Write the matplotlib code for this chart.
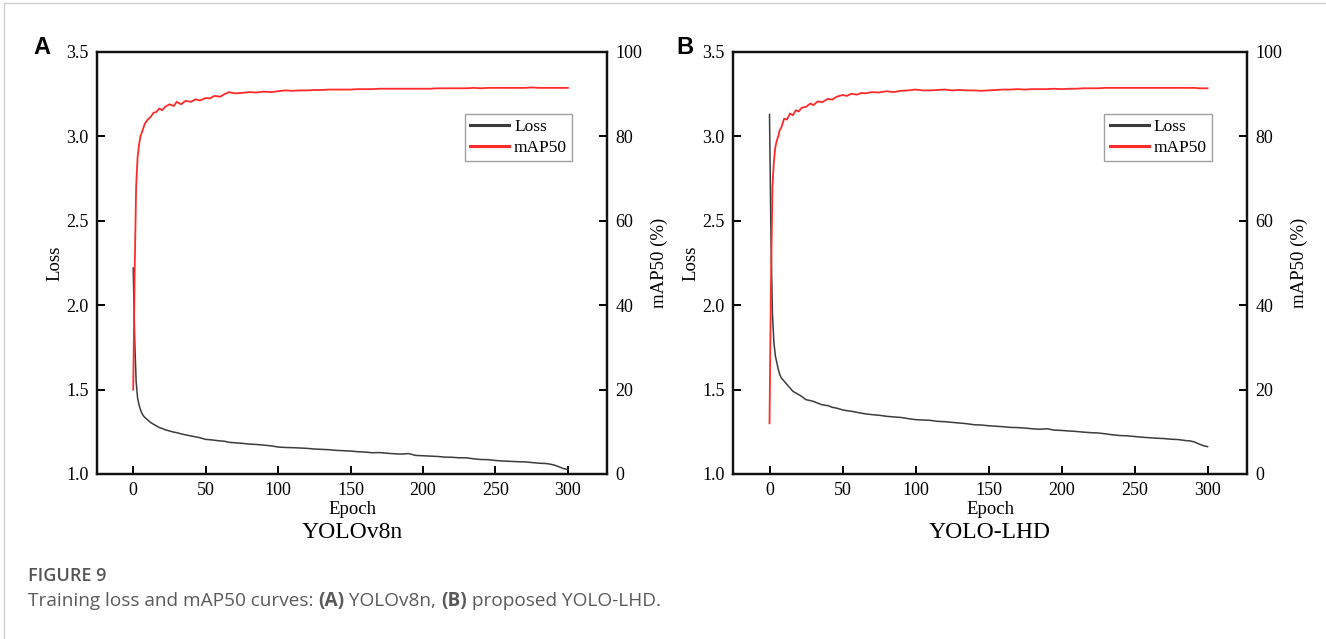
import matplotlib
matplotlib.use("Agg")
import matplotlib.pyplot as plt
from matplotlib.lines import Line2D

# ---------------- data ----------------
epochs = [0, 1, 2, 3, 4, 5, 6, 7, 8, 10, 12, 14, 16, 18, 20, 22, 25, 28, 30, 33, 36,
          40, 43, 46, 50, 53, 56, 60, 63, 66, 70, 75, 80, 85, 90, 95, 100, 105, 110,
          115, 120, 125, 130, 135, 140, 145, 150, 155, 160, 165, 170, 175, 180, 185,
          190, 195, 200, 205, 210, 215, 220, 225, 230, 235, 240, 245, 250, 255, 260,
          265, 270, 275, 280, 285, 288, 291, 294, 297, 300]

loss_a = [2.22, 1.80, 1.55, 1.45, 1.41, 1.38, 1.36, 1.345, 1.335, 1.32, 1.305, 1.295,
          1.285, 1.275, 1.27, 1.262, 1.255, 1.248, 1.245, 1.238, 1.232, 1.225, 1.22,
          1.215, 1.205, 1.203, 1.200, 1.196, 1.194, 1.188, 1.185, 1.182, 1.177, 1.175,
          1.171, 1.167, 1.160, 1.157, 1.156, 1.154, 1.152, 1.148, 1.146, 1.144, 1.140,
          1.138, 1.136, 1.132, 1.130, 1.126, 1.127, 1.123, 1.120, 1.118, 1.121, 1.110,
          1.108, 1.106, 1.104, 1.100, 1.099, 1.096, 1.096, 1.090, 1.086, 1.085, 1.080,
          1.077, 1.075, 1.073, 1.072, 1.068, 1.064, 1.062, 1.058, 1.052, 1.042, 1.032,
          1.026]

map_a = [20, 48, 68, 75, 78, 80, 81, 82, 83, 84, 84.6, 85.6, 85.8, 86.6, 86.2, 87.0,
         87.6, 87.2, 88.2, 87.6, 88.4, 88.2, 88.8, 88.5, 89.1, 89.0, 89.6, 89.4, 90.0,
         90.5, 90.2, 90.3, 90.5, 90.4, 90.6, 90.5, 90.7, 90.9, 90.8, 90.9, 90.9, 91.0,
         91.0, 91.1, 91.1, 91.1, 91.1, 91.2, 91.2, 91.2, 91.3, 91.3, 91.3, 91.3, 91.3,
         91.3, 91.3, 91.3, 91.4, 91.4, 91.4, 91.4, 91.4, 91.5, 91.4, 91.5, 91.5, 91.5,
         91.5, 91.5, 91.5, 91.6, 91.5, 91.5, 91.5, 91.5, 91.5, 91.5, 91.5]

loss_b = [3.13, 2.40, 1.95, 1.78, 1.70, 1.66, 1.62, 1.59, 1.57, 1.55, 1.53, 1.51, 1.49,
          1.48, 1.47, 1.46, 1.44, 1.435, 1.43, 1.42, 1.41, 1.405, 1.395, 1.39, 1.38,
          1.375, 1.372, 1.365, 1.36, 1.356, 1.352, 1.348, 1.342, 1.338, 1.335, 1.328,
          1.322, 1.320, 1.318, 1.312, 1.310, 1.306, 1.302, 1.298, 1.292, 1.290, 1.286,
          1.283, 1.280, 1.276, 1.275, 1.272, 1.268, 1.265, 1.268, 1.260, 1.258, 1.255,
          1.252, 1.248, 1.245, 1.243, 1.238, 1.232, 1.228, 1.226, 1.222, 1.218, 1.215,
          1.212, 1.210, 1.206, 1.204, 1.198, 1.196, 1.190, 1.178, 1.168, 1.162]

map_b = [12, 45, 68, 74, 77.5, 79, 80, 81.5, 82, 84.2, 84.0, 85.4, 85.0, 86.2, 85.9,
         86.8, 87.0, 87.8, 87.4, 88.3, 88.1, 88.9, 88.7, 89.4, 89.8, 89.6, 90.1, 89.9,
         90.3, 90.2, 90.5, 90.4, 90.7, 90.5, 90.8, 90.9, 91.1, 90.9, 90.9, 91.0, 91.1,
         90.9, 91.0, 90.9, 90.9, 90.8, 90.9, 91.0, 91.1, 91.1, 91.2, 91.1, 91.2, 91.2,
         91.2, 91.3, 91.2, 91.3, 91.3, 91.4, 91.4, 91.4, 91.5, 91.5, 91.5, 91.5, 91.5,
         91.5, 91.5, 91.5, 91.5, 91.5, 91.5, 91.5, 91.5, 91.5, 91.4, 91.4, 91.4]

panel_letters = ["A", "B"]
model_names = ["YOLOv8n", "YOLO-LHD"]
loss_ticks = [1.0, 1.5, 2.0, 2.5, 3.0, 3.5]
map_ticks = [0, 20, 40, 60, 80, 100]
epoch_ticks = [0, 50, 100, 150, 200, 250, 300]
caption_head = "FIGURE 9"

# ---------------- figure ----------------
W, H = 1326, 639
fig = plt.figure(figsize=(W / 100, H / 100), dpi=100)
serif = ["Liberation Serif", "DejaVu Serif"]

LOSS_COLOR = "#3c3c3c"
MAP_COLOR = "#ff2a2a"

def px(x0, y0, x1, y1):
    return [x0 / W, 1 - y1 / H, (x1 - x0) / W, (y1 - y0) / H]

axes_boxes = [px(97, 52, 607, 474), px(733, 52, 1247, 474)]
series = [(loss_a, map_a), (loss_b, map_b)]
letter_pos = [(33, 48), (676, 48)]

for i in range(2):
    ax = fig.add_axes(axes_boxes[i])
    ax2 = ax.twinx()
    loss, mp = series[i]
    l1, = ax.plot(epochs, loss, color=LOSS_COLOR, lw=1.1, label="Loss")
    l2, = ax2.plot(epochs, mp, color=MAP_COLOR, lw=1.3, label="mAP50")
    ax.set_xlim(-25, 327)
    ax.set_ylim(1.0, 3.5)
    ax2.set_ylim(0, 100)
    ax.set_xticks(epoch_ticks)
    ax.set_yticks(loss_ticks)
    ax.set_yticklabels([f"{v:.1f}" for v in loss_ticks])
    ax2.set_yticks(map_ticks)
    for a in (ax, ax2):
        for s in a.spines.values():
            s.set_linewidth(1.6)
            s.set_color("#111111")
    ax.tick_params(axis="both", direction="in", length=6, width=1.4,
                   labelsize=13, pad=6)
    ax2.tick_params(axis="y", direction="in", length=6, width=1.4,
                    labelsize=13, pad=6)
    for lab in ax.get_xticklabels() + ax.get_yticklabels() + ax2.get_yticklabels():
        lab.set_fontfamily(serif)
    ax.set_xlabel("Epoch", fontfamily=serif, fontsize=13.5, labelpad=1)
    ax.set_ylabel("Loss", fontfamily=serif, fontsize=13.5, labelpad=2)
    ax2.set_ylabel("mAP50 (%)", fontfamily=serif, fontsize=13.5, labelpad=6)
    ax.text(0.5, -0.138, model_names[i], transform=ax.transAxes, ha="center",
            va="center", fontfamily=serif, fontsize=17)
    leg = ax2.legend(handles=[l1, l2], loc="upper right",
                     bbox_to_anchor=(0.932, 0.853), fancybox=False,
                     prop={"family": serif, "size": 12.5}, handlelength=2.25,
                     borderpad=0.3, labelspacing=0.25, handletextpad=0.3,
                     borderaxespad=0)
    leg.get_frame().set_edgecolor("#888888")
    leg.get_frame().set_linewidth(1.0)
    for h in leg.get_lines():
        h.set_linewidth(2.2)
    fig.text(letter_pos[i][0] / W, 1 - letter_pos[i][1] / H, panel_letters[i],
             fontfamily=["Liberation Sans", "DejaVu Sans"], fontweight="bold",
             fontsize=17, ha="left", va="center")

# page frame lines (top and left)
fig.add_artist(Line2D([4 / W, 1], [1 - 3 / H, 1 - 3 / H], color="#d0d0d0", lw=1.0))
fig.add_artist(Line2D([4 / W, 4 / W], [0, 1 - 3 / H], color="#d0d0d0", lw=1.0))

# caption
cap_font = ["Open Sans", "DejaVu Sans"]
fig.text(28 / W, 1 - 576 / H, caption_head, fontfamily=cap_font, fontsize=13,
         color="#555555", ha="left", va="center", fontweight="semibold")

pieces = [("Training loss and mAP50 curves: ", "normal"), ("(A)", "bold"),
          (" YOLOv8n, ", "normal"), ("(B)", "bold"),
          (" proposed YOLO-LHD.", "normal")]
fig.canvas.draw()
renderer = fig.canvas.get_renderer()
xpos = 28
for txt, wt in pieces:
    t = fig.text(xpos / W, 1 - 601 / H, txt, fontfamily=cap_font, fontsize=13.7,
                 color="#5a5a5a", ha="left", va="center", fontweight=wt)
    bb = t.get_window_extent(renderer=renderer)
    xpos += bb.width

fig.savefig("out.png", dpi=100)
